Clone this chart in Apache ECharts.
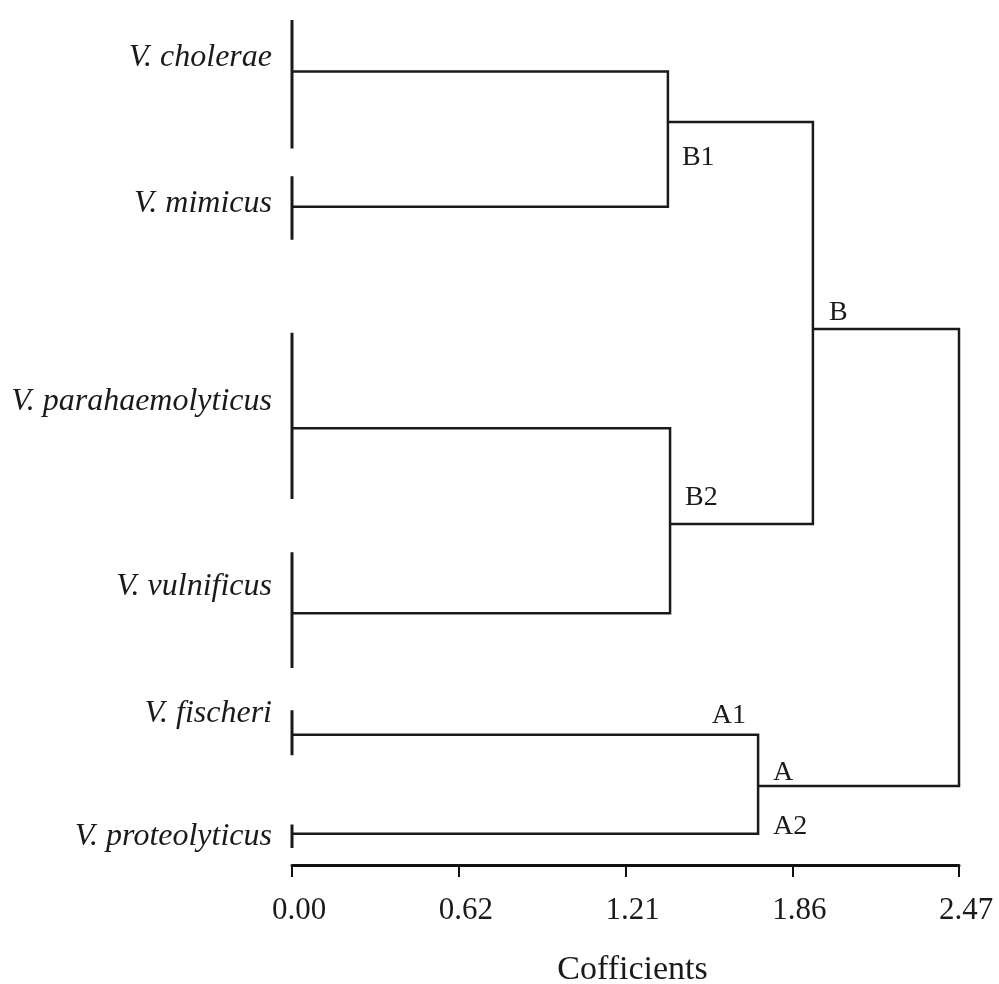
<!DOCTYPE html>
<html>
<head>
<meta charset="utf-8">
<script src="https://cdn.jsdelivr.net/npm/echarts@6/dist/echarts.min.js"></script>
<style>
html,body{margin:0;padding:0;background:#fff;}
#chart{width:999px;height:984px;}
</style>
</head>
<body>
<div id="chart"></div>
<script>
// ---- data ----
const leafNames = ['V. cholerae', 'V. mimicus', 'V. parahaemolyticus', 'V. vulnificus', 'V. fischeri', 'V. proteolyticus'];
const leafY = [6.1, 22.1, 48.3, 70.2, 84.6, 96.3];          // leaf order position (0 top .. 100 bottom)
const leafBarTop = [0, 18.5, 37.0, 63.0, 81.7, 95.2];
const leafBarBottom = [15.2, 26.0, 56.7, 76.7, 87.0, 98.0];
const nameY = [4.5, 21.7, 45.2, 67.0, 82.1, 96.6];

const clusterNames = ['B1', 'B2', 'B', 'A', 'root'];
const clusterHeight = [1.392, 1.400, 1.929, 1.726, 2.47];
const clusterY = [12.07, 59.64, 36.57, 90.65, 60];
const clusterChildren = [
  ['V. cholerae', 'V. mimicus'],
  ['V. parahaemolyticus', 'V. vulnificus'],
  ['B1', 'B2'],
  ['V. fischeri', 'V. proteolyticus'],
  ['B', 'A']
];
const nodeLabels = ['B1', 'B2', 'B', 'A1', 'A', 'A2'];
const tickLabels = ['0.00', '0.62', '1.21', '1.86', '2.47'];
const axisMax = 2.47;
const axisTitle = 'Cofficients';

// ---- build ----
const pos = {};
leafNames.forEach((n, i) => { pos[n] = [0, leafY[i]]; });
clusterNames.forEach((n, i) => { pos[n] = [clusterHeight[i], clusterY[i]]; });

const linkData = clusterNames.map((n, i) => {
  const h = clusterHeight[i];
  const c1 = pos[clusterChildren[i][0]], c2 = pos[clusterChildren[i][1]];
  return { coords: [[c1[0], c1[1]], [h, c1[1]], [h, c2[1]], [c2[0], c2[1]]] };
});
const barData = leafNames.map((n, i) => ({ coords: [[0, leafBarTop[i]], [0, leafBarBottom[i]]] }));

// label anchors (tied to the tree nodes) and pixel offsets (style)
const labelAnchor = {
  'B1': pos['B1'], 'B2': pos['B2'], 'B': pos['B'],
  'A1': [pos['A'][0], pos['V. fischeri'][1]],
  'A': pos['A'],
  'A2': [pos['A'][0], pos['V. proteolyticus'][1]]
};
const labelStyle = {
  'B1': { align: 'left', offset: [14, 36] },
  'B2': { align: 'left', offset: [15, -26] },
  'B': { align: 'left', offset: [16, -16] },
  'A1': { align: 'right', offset: [-12, -19] },
  'A': { align: 'left', offset: [15, -13] },
  'A2': { align: 'left', offset: [15, -7] }
};
const labelData = nodeLabels.map(n => ({
  value: labelAnchor[n], name: n,
  label: { align: labelStyle[n].align, offset: labelStyle[n].offset }
}));

const tickValues = tickLabels.map((t, i) => axisMax * i / (tickLabels.length - 1));

const chart = echarts.init(document.getElementById('chart'), null, { renderer: 'canvas' });
const FONT = 'Liberation Serif';
const INK = '#1a1a1a';
chart.setOption({
  animation: false,
  backgroundColor: '#fff',
  grid: { left: 292, right: 40, top: 20, bottom: 119, containLabel: false, outerBoundsMode: 'none' },
  xAxis: {
    type: 'value', min: 0, max: axisMax,
    name: axisTitle, nameLocation: 'middle', nameGap: 88,
    nameTextStyle: { fontFamily: FONT, fontSize: 34, color: INK, padding: [0, 0, 0, 14] },
    axisLine: { show: true, onZero: false, lineStyle: { color: '#111', width: 3 } },
    axisTick: { show: true, customValues: tickValues, length: 12, lineStyle: { color: '#111', width: 2 } },
    axisLabel: {
      show: true, customValues: tickValues, margin: 30,
      fontFamily: FONT, fontSize: 31, color: INK,
      padding: [0, 0, 0, 14],
      formatter: function (v) {
        let best = 0, d = Infinity;
        tickValues.forEach((t, i) => { if (Math.abs(t - v) < d) { d = Math.abs(t - v); best = i; } });
        return tickLabels[best];
      }
    },
    splitLine: { show: false }
  },
  yAxis: {
    type: 'value', min: 0, max: 100, inverse: true,
    axisLine: { show: false }, axisTick: { show: false }, splitLine: { show: false },
    axisLabel: {
      show: true, customValues: nameY, margin: 20,
      fontFamily: FONT, fontStyle: 'italic', fontSize: 32, color: INK,
      formatter: function (v) {
        let best = 0, d = Infinity;
        nameY.forEach((t, i) => { if (Math.abs(t - v) < d) { d = Math.abs(t - v); best = i; } });
        return leafNames[best];
      }
    }
  },
  series: [
    {
      type: 'lines', coordinateSystem: 'cartesian2d', polyline: true,
      data: linkData, silent: true,
      lineStyle: { color: INK, width: 2.5, opacity: 1, curveness: 0 }
    },
    {
      type: 'lines', coordinateSystem: 'cartesian2d', polyline: true,
      data: barData, silent: true,
      lineStyle: { color: INK, width: 3, opacity: 1 }
    },
    {
      type: 'scatter', symbolSize: 0, data: labelData, silent: true,
      itemStyle: { opacity: 1, color: INK },
      label: {
        show: true, position: [0, 0], verticalAlign: 'middle',
        formatter: p => p.name, opacity: 1,
        fontFamily: FONT, fontSize: 28, color: INK
      }
    }
  ]
});
</script>
</body>
</html>
